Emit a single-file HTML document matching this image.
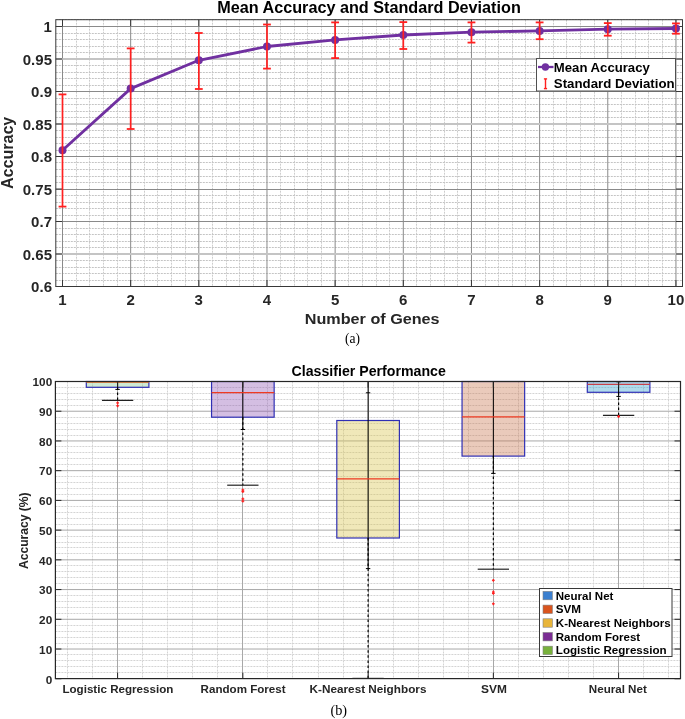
<!DOCTYPE html>
<html><head><meta charset="utf-8"><style>
html,body{margin:0;padding:0;background:#fff;}
svg{display:block;will-change:transform;}
</style></head><body>
<svg width="685" height="719" viewBox="0 0 685 719">
<rect width="685" height="719" fill="#fff"/>
<g>
<line x1="76.50" y1="19.70" x2="76.50" y2="286.50" stroke="#cdcdcd" stroke-width="1" stroke-dasharray="2,1"/>
<line x1="89.50" y1="19.70" x2="89.50" y2="286.50" stroke="#cdcdcd" stroke-width="1" stroke-dasharray="2,1"/>
<line x1="103.50" y1="19.70" x2="103.50" y2="286.50" stroke="#cdcdcd" stroke-width="1" stroke-dasharray="2,1"/>
<line x1="117.50" y1="19.70" x2="117.50" y2="286.50" stroke="#cdcdcd" stroke-width="1" stroke-dasharray="2,1"/>
<line x1="144.50" y1="19.70" x2="144.50" y2="286.50" stroke="#cdcdcd" stroke-width="1" stroke-dasharray="2,1"/>
<line x1="157.50" y1="19.70" x2="157.50" y2="286.50" stroke="#cdcdcd" stroke-width="1" stroke-dasharray="2,1"/>
<line x1="171.50" y1="19.70" x2="171.50" y2="286.50" stroke="#cdcdcd" stroke-width="1" stroke-dasharray="2,1"/>
<line x1="185.50" y1="19.70" x2="185.50" y2="286.50" stroke="#cdcdcd" stroke-width="1" stroke-dasharray="2,1"/>
<line x1="212.50" y1="19.70" x2="212.50" y2="286.50" stroke="#cdcdcd" stroke-width="1" stroke-dasharray="2,1"/>
<line x1="226.50" y1="19.70" x2="226.50" y2="286.50" stroke="#cdcdcd" stroke-width="1" stroke-dasharray="2,1"/>
<line x1="239.50" y1="19.70" x2="239.50" y2="286.50" stroke="#cdcdcd" stroke-width="1" stroke-dasharray="2,1"/>
<line x1="253.50" y1="19.70" x2="253.50" y2="286.50" stroke="#cdcdcd" stroke-width="1" stroke-dasharray="2,1"/>
<line x1="280.50" y1="19.70" x2="280.50" y2="286.50" stroke="#cdcdcd" stroke-width="1" stroke-dasharray="2,1"/>
<line x1="294.50" y1="19.70" x2="294.50" y2="286.50" stroke="#cdcdcd" stroke-width="1" stroke-dasharray="2,1"/>
<line x1="307.50" y1="19.70" x2="307.50" y2="286.50" stroke="#cdcdcd" stroke-width="1" stroke-dasharray="2,1"/>
<line x1="321.50" y1="19.70" x2="321.50" y2="286.50" stroke="#cdcdcd" stroke-width="1" stroke-dasharray="2,1"/>
<line x1="348.50" y1="19.70" x2="348.50" y2="286.50" stroke="#cdcdcd" stroke-width="1" stroke-dasharray="2,1"/>
<line x1="362.50" y1="19.70" x2="362.50" y2="286.50" stroke="#cdcdcd" stroke-width="1" stroke-dasharray="2,1"/>
<line x1="376.50" y1="19.70" x2="376.50" y2="286.50" stroke="#cdcdcd" stroke-width="1" stroke-dasharray="2,1"/>
<line x1="389.50" y1="19.70" x2="389.50" y2="286.50" stroke="#cdcdcd" stroke-width="1" stroke-dasharray="2,1"/>
<line x1="416.50" y1="19.70" x2="416.50" y2="286.50" stroke="#cdcdcd" stroke-width="1" stroke-dasharray="2,1"/>
<line x1="430.50" y1="19.70" x2="430.50" y2="286.50" stroke="#cdcdcd" stroke-width="1" stroke-dasharray="2,1"/>
<line x1="444.50" y1="19.70" x2="444.50" y2="286.50" stroke="#cdcdcd" stroke-width="1" stroke-dasharray="2,1"/>
<line x1="457.50" y1="19.70" x2="457.50" y2="286.50" stroke="#cdcdcd" stroke-width="1" stroke-dasharray="2,1"/>
<line x1="485.50" y1="19.70" x2="485.50" y2="286.50" stroke="#cdcdcd" stroke-width="1" stroke-dasharray="2,1"/>
<line x1="498.50" y1="19.70" x2="498.50" y2="286.50" stroke="#cdcdcd" stroke-width="1" stroke-dasharray="2,1"/>
<line x1="512.50" y1="19.70" x2="512.50" y2="286.50" stroke="#cdcdcd" stroke-width="1" stroke-dasharray="2,1"/>
<line x1="525.50" y1="19.70" x2="525.50" y2="286.50" stroke="#cdcdcd" stroke-width="1" stroke-dasharray="2,1"/>
<line x1="553.50" y1="19.70" x2="553.50" y2="286.50" stroke="#cdcdcd" stroke-width="1" stroke-dasharray="2,1"/>
<line x1="566.50" y1="19.70" x2="566.50" y2="286.50" stroke="#cdcdcd" stroke-width="1" stroke-dasharray="2,1"/>
<line x1="580.50" y1="19.70" x2="580.50" y2="286.50" stroke="#cdcdcd" stroke-width="1" stroke-dasharray="2,1"/>
<line x1="594.50" y1="19.70" x2="594.50" y2="286.50" stroke="#cdcdcd" stroke-width="1" stroke-dasharray="2,1"/>
<line x1="621.50" y1="19.70" x2="621.50" y2="286.50" stroke="#cdcdcd" stroke-width="1" stroke-dasharray="2,1"/>
<line x1="635.50" y1="19.70" x2="635.50" y2="286.50" stroke="#cdcdcd" stroke-width="1" stroke-dasharray="2,1"/>
<line x1="648.50" y1="19.70" x2="648.50" y2="286.50" stroke="#cdcdcd" stroke-width="1" stroke-dasharray="2,1"/>
<line x1="662.50" y1="19.70" x2="662.50" y2="286.50" stroke="#cdcdcd" stroke-width="1" stroke-dasharray="2,1"/>
<line x1="55.80" y1="280.50" x2="682.50" y2="280.50" stroke="#c4c4c4" stroke-width="1" stroke-dasharray="2,1"/>
<line x1="55.80" y1="273.50" x2="682.50" y2="273.50" stroke="#c4c4c4" stroke-width="1" stroke-dasharray="2,1"/>
<line x1="55.80" y1="267.50" x2="682.50" y2="267.50" stroke="#c4c4c4" stroke-width="1" stroke-dasharray="2,1"/>
<line x1="55.80" y1="260.50" x2="682.50" y2="260.50" stroke="#c4c4c4" stroke-width="1" stroke-dasharray="2,1"/>
<line x1="55.80" y1="247.50" x2="682.50" y2="247.50" stroke="#c4c4c4" stroke-width="1" stroke-dasharray="2,1"/>
<line x1="55.80" y1="241.50" x2="682.50" y2="241.50" stroke="#c4c4c4" stroke-width="1" stroke-dasharray="2,1"/>
<line x1="55.80" y1="234.50" x2="682.50" y2="234.50" stroke="#c4c4c4" stroke-width="1" stroke-dasharray="2,1"/>
<line x1="55.80" y1="228.50" x2="682.50" y2="228.50" stroke="#c4c4c4" stroke-width="1" stroke-dasharray="2,1"/>
<line x1="55.80" y1="215.50" x2="682.50" y2="215.50" stroke="#c4c4c4" stroke-width="1" stroke-dasharray="2,1"/>
<line x1="55.80" y1="208.50" x2="682.50" y2="208.50" stroke="#c4c4c4" stroke-width="1" stroke-dasharray="2,1"/>
<line x1="55.80" y1="202.50" x2="682.50" y2="202.50" stroke="#c4c4c4" stroke-width="1" stroke-dasharray="2,1"/>
<line x1="55.80" y1="195.50" x2="682.50" y2="195.50" stroke="#c4c4c4" stroke-width="1" stroke-dasharray="2,1"/>
<line x1="55.80" y1="182.50" x2="682.50" y2="182.50" stroke="#c4c4c4" stroke-width="1" stroke-dasharray="2,1"/>
<line x1="55.80" y1="176.50" x2="682.50" y2="176.50" stroke="#c4c4c4" stroke-width="1" stroke-dasharray="2,1"/>
<line x1="55.80" y1="169.50" x2="682.50" y2="169.50" stroke="#c4c4c4" stroke-width="1" stroke-dasharray="2,1"/>
<line x1="55.80" y1="162.50" x2="682.50" y2="162.50" stroke="#c4c4c4" stroke-width="1" stroke-dasharray="2,1"/>
<line x1="55.80" y1="150.50" x2="682.50" y2="150.50" stroke="#c4c4c4" stroke-width="1" stroke-dasharray="2,1"/>
<line x1="55.80" y1="143.50" x2="682.50" y2="143.50" stroke="#c4c4c4" stroke-width="1" stroke-dasharray="2,1"/>
<line x1="55.80" y1="137.50" x2="682.50" y2="137.50" stroke="#c4c4c4" stroke-width="1" stroke-dasharray="2,1"/>
<line x1="55.80" y1="130.50" x2="682.50" y2="130.50" stroke="#c4c4c4" stroke-width="1" stroke-dasharray="2,1"/>
<line x1="55.80" y1="117.50" x2="682.50" y2="117.50" stroke="#c4c4c4" stroke-width="1" stroke-dasharray="2,1"/>
<line x1="55.80" y1="111.50" x2="682.50" y2="111.50" stroke="#c4c4c4" stroke-width="1" stroke-dasharray="2,1"/>
<line x1="55.80" y1="104.50" x2="682.50" y2="104.50" stroke="#c4c4c4" stroke-width="1" stroke-dasharray="2,1"/>
<line x1="55.80" y1="98.50" x2="682.50" y2="98.50" stroke="#c4c4c4" stroke-width="1" stroke-dasharray="2,1"/>
<line x1="55.80" y1="85.50" x2="682.50" y2="85.50" stroke="#c4c4c4" stroke-width="1" stroke-dasharray="2,1"/>
<line x1="55.80" y1="78.50" x2="682.50" y2="78.50" stroke="#c4c4c4" stroke-width="1" stroke-dasharray="2,1"/>
<line x1="55.80" y1="72.50" x2="682.50" y2="72.50" stroke="#c4c4c4" stroke-width="1" stroke-dasharray="2,1"/>
<line x1="55.80" y1="65.50" x2="682.50" y2="65.50" stroke="#c4c4c4" stroke-width="1" stroke-dasharray="2,1"/>
<line x1="55.80" y1="52.50" x2="682.50" y2="52.50" stroke="#c4c4c4" stroke-width="1" stroke-dasharray="2,1"/>
<line x1="55.80" y1="46.50" x2="682.50" y2="46.50" stroke="#c4c4c4" stroke-width="1" stroke-dasharray="2,1"/>
<line x1="55.80" y1="39.50" x2="682.50" y2="39.50" stroke="#c4c4c4" stroke-width="1" stroke-dasharray="2,1"/>
<line x1="55.80" y1="33.50" x2="682.50" y2="33.50" stroke="#c4c4c4" stroke-width="1" stroke-dasharray="2,1"/>
<line x1="55.80" y1="19.50" x2="682.50" y2="19.50" stroke="#c4c4c4" stroke-width="1" stroke-dasharray="2,1"/>
<line x1="62.50" y1="19.70" x2="62.50" y2="286.50" stroke="#8a8a8a" stroke-width="1" />
<line x1="130.66" y1="19.70" x2="130.66" y2="286.50" stroke="#8a8a8a" stroke-width="1" />
<line x1="198.82" y1="19.70" x2="198.82" y2="286.50" stroke="#8a8a8a" stroke-width="1" />
<line x1="266.98" y1="19.70" x2="266.98" y2="286.50" stroke="#8a8a8a" stroke-width="1" />
<line x1="335.14" y1="19.70" x2="335.14" y2="286.50" stroke="#8a8a8a" stroke-width="1" />
<line x1="403.30" y1="19.70" x2="403.30" y2="286.50" stroke="#8a8a8a" stroke-width="1" />
<line x1="471.46" y1="19.70" x2="471.46" y2="286.50" stroke="#8a8a8a" stroke-width="1" />
<line x1="539.62" y1="19.70" x2="539.62" y2="286.50" stroke="#8a8a8a" stroke-width="1" />
<line x1="607.78" y1="19.70" x2="607.78" y2="286.50" stroke="#8a8a8a" stroke-width="1" />
<line x1="675.94" y1="19.70" x2="675.94" y2="286.50" stroke="#8a8a8a" stroke-width="1" />
<line x1="55.80" y1="26.50" x2="682.50" y2="26.50" stroke="#8a8a8a" stroke-width="1" />
<line x1="55.80" y1="59.00" x2="682.50" y2="59.00" stroke="#c4c4c4" stroke-width="2" />
<line x1="55.80" y1="91.50" x2="682.50" y2="91.50" stroke="#8a8a8a" stroke-width="1" />
<line x1="55.80" y1="124.00" x2="682.50" y2="124.00" stroke="#c4c4c4" stroke-width="2" />
<line x1="55.80" y1="156.50" x2="682.50" y2="156.50" stroke="#8a8a8a" stroke-width="1" />
<line x1="55.80" y1="189.50" x2="682.50" y2="189.50" stroke="#8a8a8a" stroke-width="1" />
<line x1="55.80" y1="221.50" x2="682.50" y2="221.50" stroke="#8a8a8a" stroke-width="1" />
<line x1="55.80" y1="254.00" x2="682.50" y2="254.00" stroke="#c4c4c4" stroke-width="2" />
</g>
<rect x="55.8" y="19.7" width="626.7" height="266.8" fill="none" stroke="#383838" stroke-width="1"/>
<line x1="62.50" y1="286.50" x2="62.50" y2="280.00" stroke="#383838" stroke-width="1" />
<line x1="62.50" y1="19.70" x2="62.50" y2="26.20" stroke="#383838" stroke-width="1" />
<line x1="130.66" y1="286.50" x2="130.66" y2="280.00" stroke="#383838" stroke-width="1" />
<line x1="130.66" y1="19.70" x2="130.66" y2="26.20" stroke="#383838" stroke-width="1" />
<line x1="198.82" y1="286.50" x2="198.82" y2="280.00" stroke="#383838" stroke-width="1" />
<line x1="198.82" y1="19.70" x2="198.82" y2="26.20" stroke="#383838" stroke-width="1" />
<line x1="266.98" y1="286.50" x2="266.98" y2="280.00" stroke="#383838" stroke-width="1" />
<line x1="266.98" y1="19.70" x2="266.98" y2="26.20" stroke="#383838" stroke-width="1" />
<line x1="335.14" y1="286.50" x2="335.14" y2="280.00" stroke="#383838" stroke-width="1" />
<line x1="335.14" y1="19.70" x2="335.14" y2="26.20" stroke="#383838" stroke-width="1" />
<line x1="403.30" y1="286.50" x2="403.30" y2="280.00" stroke="#383838" stroke-width="1" />
<line x1="403.30" y1="19.70" x2="403.30" y2="26.20" stroke="#383838" stroke-width="1" />
<line x1="471.46" y1="286.50" x2="471.46" y2="280.00" stroke="#383838" stroke-width="1" />
<line x1="471.46" y1="19.70" x2="471.46" y2="26.20" stroke="#383838" stroke-width="1" />
<line x1="539.62" y1="286.50" x2="539.62" y2="280.00" stroke="#383838" stroke-width="1" />
<line x1="539.62" y1="19.70" x2="539.62" y2="26.20" stroke="#383838" stroke-width="1" />
<line x1="607.78" y1="286.50" x2="607.78" y2="280.00" stroke="#383838" stroke-width="1" />
<line x1="607.78" y1="19.70" x2="607.78" y2="26.20" stroke="#383838" stroke-width="1" />
<line x1="675.94" y1="286.50" x2="675.94" y2="280.00" stroke="#383838" stroke-width="1" />
<line x1="675.94" y1="19.70" x2="675.94" y2="26.20" stroke="#383838" stroke-width="1" />
<line x1="55.80" y1="286.50" x2="62.30" y2="286.50" stroke="#383838" stroke-width="1" />
<line x1="682.50" y1="286.50" x2="676.00" y2="286.50" stroke="#383838" stroke-width="1" />
<line x1="55.80" y1="254.00" x2="62.30" y2="254.00" stroke="#383838" stroke-width="1" />
<line x1="682.50" y1="254.00" x2="676.00" y2="254.00" stroke="#383838" stroke-width="1" />
<line x1="55.80" y1="221.50" x2="62.30" y2="221.50" stroke="#383838" stroke-width="1" />
<line x1="682.50" y1="221.50" x2="676.00" y2="221.50" stroke="#383838" stroke-width="1" />
<line x1="55.80" y1="189.00" x2="62.30" y2="189.00" stroke="#383838" stroke-width="1" />
<line x1="682.50" y1="189.00" x2="676.00" y2="189.00" stroke="#383838" stroke-width="1" />
<line x1="55.80" y1="156.50" x2="62.30" y2="156.50" stroke="#383838" stroke-width="1" />
<line x1="682.50" y1="156.50" x2="676.00" y2="156.50" stroke="#383838" stroke-width="1" />
<line x1="55.80" y1="124.00" x2="62.30" y2="124.00" stroke="#383838" stroke-width="1" />
<line x1="682.50" y1="124.00" x2="676.00" y2="124.00" stroke="#383838" stroke-width="1" />
<line x1="55.80" y1="91.50" x2="62.30" y2="91.50" stroke="#383838" stroke-width="1" />
<line x1="682.50" y1="91.50" x2="676.00" y2="91.50" stroke="#383838" stroke-width="1" />
<line x1="55.80" y1="59.00" x2="62.30" y2="59.00" stroke="#383838" stroke-width="1" />
<line x1="682.50" y1="59.00" x2="676.00" y2="59.00" stroke="#383838" stroke-width="1" />
<line x1="55.80" y1="26.50" x2="62.30" y2="26.50" stroke="#383838" stroke-width="1" />
<line x1="682.50" y1="26.50" x2="676.00" y2="26.50" stroke="#383838" stroke-width="1" />
<polyline points="62.50,150.20 130.66,88.60 198.82,60.30 266.98,46.50 335.14,39.90 403.30,35.00 471.46,32.20 539.62,30.90 607.78,29.20 675.94,28.50" fill="none" stroke="#7030a0" stroke-width="2.8" stroke-linejoin="round"/>
<circle cx="62.50" cy="150.20" r="4" fill="#7030a0"/>
<circle cx="130.66" cy="88.60" r="4" fill="#7030a0"/>
<circle cx="198.82" cy="60.30" r="4" fill="#7030a0"/>
<circle cx="266.98" cy="46.50" r="4" fill="#7030a0"/>
<circle cx="335.14" cy="39.90" r="4" fill="#7030a0"/>
<circle cx="403.30" cy="35.00" r="4" fill="#7030a0"/>
<circle cx="471.46" cy="32.20" r="4" fill="#7030a0"/>
<circle cx="539.62" cy="30.90" r="4" fill="#7030a0"/>
<circle cx="607.78" cy="29.20" r="4" fill="#7030a0"/>
<circle cx="675.94" cy="28.50" r="4" fill="#7030a0"/>
<line x1="62.50" y1="94.40" x2="62.50" y2="206.60" stroke="#ff2020" stroke-width="1.7" />
<line x1="58.60" y1="94.40" x2="66.40" y2="94.40" stroke="#ff2020" stroke-width="1.8" />
<line x1="58.60" y1="206.60" x2="66.40" y2="206.60" stroke="#ff2020" stroke-width="1.8" />
<line x1="130.66" y1="48.40" x2="130.66" y2="129.00" stroke="#ff2020" stroke-width="1.7" />
<line x1="126.76" y1="48.40" x2="134.56" y2="48.40" stroke="#ff2020" stroke-width="1.8" />
<line x1="126.76" y1="129.00" x2="134.56" y2="129.00" stroke="#ff2020" stroke-width="1.8" />
<line x1="198.82" y1="33.00" x2="198.82" y2="89.00" stroke="#ff2020" stroke-width="1.7" />
<line x1="194.92" y1="33.00" x2="202.72" y2="33.00" stroke="#ff2020" stroke-width="1.8" />
<line x1="194.92" y1="89.00" x2="202.72" y2="89.00" stroke="#ff2020" stroke-width="1.8" />
<line x1="266.98" y1="24.50" x2="266.98" y2="68.60" stroke="#ff2020" stroke-width="1.7" />
<line x1="263.08" y1="24.50" x2="270.88" y2="24.50" stroke="#ff2020" stroke-width="1.8" />
<line x1="263.08" y1="68.60" x2="270.88" y2="68.60" stroke="#ff2020" stroke-width="1.8" />
<line x1="335.14" y1="22.40" x2="335.14" y2="58.10" stroke="#ff2020" stroke-width="1.7" />
<line x1="331.24" y1="22.40" x2="339.04" y2="22.40" stroke="#ff2020" stroke-width="1.8" />
<line x1="331.24" y1="58.10" x2="339.04" y2="58.10" stroke="#ff2020" stroke-width="1.8" />
<line x1="403.30" y1="22.10" x2="403.30" y2="49.00" stroke="#ff2020" stroke-width="1.7" />
<line x1="399.40" y1="22.10" x2="407.20" y2="22.10" stroke="#ff2020" stroke-width="1.8" />
<line x1="399.40" y1="49.00" x2="407.20" y2="49.00" stroke="#ff2020" stroke-width="1.8" />
<line x1="471.46" y1="22.40" x2="471.46" y2="42.60" stroke="#ff2020" stroke-width="1.7" />
<line x1="467.56" y1="22.40" x2="475.36" y2="22.40" stroke="#ff2020" stroke-width="1.8" />
<line x1="467.56" y1="42.60" x2="475.36" y2="42.60" stroke="#ff2020" stroke-width="1.8" />
<line x1="539.62" y1="22.40" x2="539.62" y2="39.20" stroke="#ff2020" stroke-width="1.7" />
<line x1="535.72" y1="22.40" x2="543.52" y2="22.40" stroke="#ff2020" stroke-width="1.8" />
<line x1="535.72" y1="39.20" x2="543.52" y2="39.20" stroke="#ff2020" stroke-width="1.8" />
<line x1="607.78" y1="23.10" x2="607.78" y2="35.70" stroke="#ff2020" stroke-width="1.7" />
<line x1="603.88" y1="23.10" x2="611.68" y2="23.10" stroke="#ff2020" stroke-width="1.8" />
<line x1="603.88" y1="35.70" x2="611.68" y2="35.70" stroke="#ff2020" stroke-width="1.8" />
<line x1="675.94" y1="23.40" x2="675.94" y2="33.70" stroke="#ff2020" stroke-width="1.7" />
<line x1="672.04" y1="23.40" x2="679.84" y2="23.40" stroke="#ff2020" stroke-width="1.8" />
<line x1="672.04" y1="33.70" x2="679.84" y2="33.70" stroke="#ff2020" stroke-width="1.8" />
<rect x="536.5" y="58.5" width="139" height="32.5" fill="#fff" stroke="#505050" stroke-width="1"/>
<line x1="538.00" y1="67.00" x2="553.50" y2="67.00" stroke="#7030a0" stroke-width="2.3" />
<circle cx="545.4" cy="67.0" r="3.7" fill="#7030a0"/>
<line x1="545.50" y1="78.90" x2="545.50" y2="88.60" stroke="#ff2020" stroke-width="1.4" />
<line x1="543.90" y1="78.90" x2="547.10" y2="78.90" stroke="#ff2020" stroke-width="1.4" />
<line x1="543.90" y1="88.60" x2="547.10" y2="88.60" stroke="#ff2020" stroke-width="1.4" />
<text x="52.00" y="292.10" text-anchor="end" font-family='"Liberation Sans", sans-serif' font-weight="bold" font-size="14.6" fill="#262626" textLength="20.90" lengthAdjust="spacingAndGlyphs">0.6</text>
<text x="52.00" y="259.60" text-anchor="end" font-family='"Liberation Sans", sans-serif' font-weight="bold" font-size="14.6" fill="#262626" textLength="29.26" lengthAdjust="spacingAndGlyphs">0.65</text>
<text x="52.00" y="227.10" text-anchor="end" font-family='"Liberation Sans", sans-serif' font-weight="bold" font-size="14.6" fill="#262626" textLength="20.90" lengthAdjust="spacingAndGlyphs">0.7</text>
<text x="52.00" y="194.60" text-anchor="end" font-family='"Liberation Sans", sans-serif' font-weight="bold" font-size="14.6" fill="#262626" textLength="29.26" lengthAdjust="spacingAndGlyphs">0.75</text>
<text x="52.00" y="162.10" text-anchor="end" font-family='"Liberation Sans", sans-serif' font-weight="bold" font-size="14.6" fill="#262626" textLength="20.90" lengthAdjust="spacingAndGlyphs">0.8</text>
<text x="52.00" y="129.60" text-anchor="end" font-family='"Liberation Sans", sans-serif' font-weight="bold" font-size="14.6" fill="#262626" textLength="29.26" lengthAdjust="spacingAndGlyphs">0.85</text>
<text x="52.00" y="97.10" text-anchor="end" font-family='"Liberation Sans", sans-serif' font-weight="bold" font-size="14.6" fill="#262626" textLength="20.90" lengthAdjust="spacingAndGlyphs">0.9</text>
<text x="52.00" y="64.60" text-anchor="end" font-family='"Liberation Sans", sans-serif' font-weight="bold" font-size="14.6" fill="#262626" textLength="29.26" lengthAdjust="spacingAndGlyphs">0.95</text>
<text x="52.00" y="32.10" text-anchor="end" font-family='"Liberation Sans", sans-serif' font-weight="bold" font-size="14.6" fill="#262626" textLength="8.36" lengthAdjust="spacingAndGlyphs">1</text>
<text x="62.50" y="305.20" text-anchor="middle" font-family='"Liberation Sans", sans-serif' font-weight="bold" font-size="14.6" fill="#262626" textLength="8.36" lengthAdjust="spacingAndGlyphs">1</text>
<text x="130.66" y="305.20" text-anchor="middle" font-family='"Liberation Sans", sans-serif' font-weight="bold" font-size="14.6" fill="#262626" textLength="8.36" lengthAdjust="spacingAndGlyphs">2</text>
<text x="198.82" y="305.20" text-anchor="middle" font-family='"Liberation Sans", sans-serif' font-weight="bold" font-size="14.6" fill="#262626" textLength="8.36" lengthAdjust="spacingAndGlyphs">3</text>
<text x="266.98" y="305.20" text-anchor="middle" font-family='"Liberation Sans", sans-serif' font-weight="bold" font-size="14.6" fill="#262626" textLength="8.36" lengthAdjust="spacingAndGlyphs">4</text>
<text x="335.14" y="305.20" text-anchor="middle" font-family='"Liberation Sans", sans-serif' font-weight="bold" font-size="14.6" fill="#262626" textLength="8.36" lengthAdjust="spacingAndGlyphs">5</text>
<text x="403.30" y="305.20" text-anchor="middle" font-family='"Liberation Sans", sans-serif' font-weight="bold" font-size="14.6" fill="#262626" textLength="8.36" lengthAdjust="spacingAndGlyphs">6</text>
<text x="471.46" y="305.20" text-anchor="middle" font-family='"Liberation Sans", sans-serif' font-weight="bold" font-size="14.6" fill="#262626" textLength="8.36" lengthAdjust="spacingAndGlyphs">7</text>
<text x="539.62" y="305.20" text-anchor="middle" font-family='"Liberation Sans", sans-serif' font-weight="bold" font-size="14.6" fill="#262626" textLength="8.36" lengthAdjust="spacingAndGlyphs">8</text>
<text x="607.78" y="305.20" text-anchor="middle" font-family='"Liberation Sans", sans-serif' font-weight="bold" font-size="14.6" fill="#262626" textLength="8.36" lengthAdjust="spacingAndGlyphs">9</text>
<text x="675.94" y="305.20" text-anchor="middle" font-family='"Liberation Sans", sans-serif' font-weight="bold" font-size="14.6" fill="#262626" textLength="16.72" lengthAdjust="spacingAndGlyphs">10</text>
<g>
<line x1="67.50" y1="381.50" x2="67.50" y2="678.60" stroke="#d4d4d4" stroke-width="1" stroke-dasharray="2,1"/>
<line x1="92.50" y1="381.50" x2="92.50" y2="678.60" stroke="#d4d4d4" stroke-width="1" stroke-dasharray="2,1"/>
<line x1="142.50" y1="381.50" x2="142.50" y2="678.60" stroke="#d4d4d4" stroke-width="1" stroke-dasharray="2,1"/>
<line x1="167.50" y1="381.50" x2="167.50" y2="678.60" stroke="#d4d4d4" stroke-width="1" stroke-dasharray="2,1"/>
<line x1="192.50" y1="381.50" x2="192.50" y2="678.60" stroke="#d4d4d4" stroke-width="1" stroke-dasharray="2,1"/>
<line x1="217.50" y1="381.50" x2="217.50" y2="678.60" stroke="#d4d4d4" stroke-width="1" stroke-dasharray="2,1"/>
<line x1="267.50" y1="381.50" x2="267.50" y2="678.60" stroke="#d4d4d4" stroke-width="1" stroke-dasharray="2,1"/>
<line x1="292.50" y1="381.50" x2="292.50" y2="678.60" stroke="#d4d4d4" stroke-width="1" stroke-dasharray="2,1"/>
<line x1="318.50" y1="381.50" x2="318.50" y2="678.60" stroke="#d4d4d4" stroke-width="1" stroke-dasharray="2,1"/>
<line x1="343.50" y1="381.50" x2="343.50" y2="678.60" stroke="#d4d4d4" stroke-width="1" stroke-dasharray="2,1"/>
<line x1="393.50" y1="381.50" x2="393.50" y2="678.60" stroke="#d4d4d4" stroke-width="1" stroke-dasharray="2,1"/>
<line x1="418.50" y1="381.50" x2="418.50" y2="678.60" stroke="#d4d4d4" stroke-width="1" stroke-dasharray="2,1"/>
<line x1="443.50" y1="381.50" x2="443.50" y2="678.60" stroke="#d4d4d4" stroke-width="1" stroke-dasharray="2,1"/>
<line x1="468.50" y1="381.50" x2="468.50" y2="678.60" stroke="#d4d4d4" stroke-width="1" stroke-dasharray="2,1"/>
<line x1="518.50" y1="381.50" x2="518.50" y2="678.60" stroke="#d4d4d4" stroke-width="1" stroke-dasharray="2,1"/>
<line x1="543.50" y1="381.50" x2="543.50" y2="678.60" stroke="#d4d4d4" stroke-width="1" stroke-dasharray="2,1"/>
<line x1="568.50" y1="381.50" x2="568.50" y2="678.60" stroke="#d4d4d4" stroke-width="1" stroke-dasharray="2,1"/>
<line x1="593.50" y1="381.50" x2="593.50" y2="678.60" stroke="#d4d4d4" stroke-width="1" stroke-dasharray="2,1"/>
<line x1="643.50" y1="381.50" x2="643.50" y2="678.60" stroke="#d4d4d4" stroke-width="1" stroke-dasharray="2,1"/>
<line x1="668.50" y1="381.50" x2="668.50" y2="678.60" stroke="#d4d4d4" stroke-width="1" stroke-dasharray="2,1"/>
<line x1="55.40" y1="672.50" x2="680.50" y2="672.50" stroke="#d4d4d4" stroke-width="1" stroke-dasharray="2,1"/>
<line x1="55.40" y1="666.50" x2="680.50" y2="666.50" stroke="#d4d4d4" stroke-width="1" stroke-dasharray="2,1"/>
<line x1="55.40" y1="660.50" x2="680.50" y2="660.50" stroke="#d4d4d4" stroke-width="1" stroke-dasharray="2,1"/>
<line x1="55.40" y1="654.50" x2="680.50" y2="654.50" stroke="#d4d4d4" stroke-width="1" stroke-dasharray="2,1"/>
<line x1="55.40" y1="643.50" x2="680.50" y2="643.50" stroke="#d4d4d4" stroke-width="1" stroke-dasharray="2,1"/>
<line x1="55.40" y1="637.50" x2="680.50" y2="637.50" stroke="#d4d4d4" stroke-width="1" stroke-dasharray="2,1"/>
<line x1="55.40" y1="631.50" x2="680.50" y2="631.50" stroke="#d4d4d4" stroke-width="1" stroke-dasharray="2,1"/>
<line x1="55.40" y1="625.50" x2="680.50" y2="625.50" stroke="#d4d4d4" stroke-width="1" stroke-dasharray="2,1"/>
<line x1="55.40" y1="613.50" x2="680.50" y2="613.50" stroke="#d4d4d4" stroke-width="1" stroke-dasharray="2,1"/>
<line x1="55.40" y1="607.50" x2="680.50" y2="607.50" stroke="#d4d4d4" stroke-width="1" stroke-dasharray="2,1"/>
<line x1="55.40" y1="601.50" x2="680.50" y2="601.50" stroke="#d4d4d4" stroke-width="1" stroke-dasharray="2,1"/>
<line x1="55.40" y1="595.50" x2="680.50" y2="595.50" stroke="#d4d4d4" stroke-width="1" stroke-dasharray="2,1"/>
<line x1="55.40" y1="583.50" x2="680.50" y2="583.50" stroke="#d4d4d4" stroke-width="1" stroke-dasharray="2,1"/>
<line x1="55.40" y1="577.50" x2="680.50" y2="577.50" stroke="#d4d4d4" stroke-width="1" stroke-dasharray="2,1"/>
<line x1="55.40" y1="571.50" x2="680.50" y2="571.50" stroke="#d4d4d4" stroke-width="1" stroke-dasharray="2,1"/>
<line x1="55.40" y1="565.50" x2="680.50" y2="565.50" stroke="#d4d4d4" stroke-width="1" stroke-dasharray="2,1"/>
<line x1="55.40" y1="553.50" x2="680.50" y2="553.50" stroke="#d4d4d4" stroke-width="1" stroke-dasharray="2,1"/>
<line x1="55.40" y1="547.50" x2="680.50" y2="547.50" stroke="#d4d4d4" stroke-width="1" stroke-dasharray="2,1"/>
<line x1="55.40" y1="542.50" x2="680.50" y2="542.50" stroke="#d4d4d4" stroke-width="1" stroke-dasharray="2,1"/>
<line x1="55.40" y1="536.50" x2="680.50" y2="536.50" stroke="#d4d4d4" stroke-width="1" stroke-dasharray="2,1"/>
<line x1="55.40" y1="524.50" x2="680.50" y2="524.50" stroke="#d4d4d4" stroke-width="1" stroke-dasharray="2,1"/>
<line x1="55.40" y1="518.50" x2="680.50" y2="518.50" stroke="#d4d4d4" stroke-width="1" stroke-dasharray="2,1"/>
<line x1="55.40" y1="512.50" x2="680.50" y2="512.50" stroke="#d4d4d4" stroke-width="1" stroke-dasharray="2,1"/>
<line x1="55.40" y1="506.50" x2="680.50" y2="506.50" stroke="#d4d4d4" stroke-width="1" stroke-dasharray="2,1"/>
<line x1="55.40" y1="494.50" x2="680.50" y2="494.50" stroke="#d4d4d4" stroke-width="1" stroke-dasharray="2,1"/>
<line x1="55.40" y1="488.50" x2="680.50" y2="488.50" stroke="#d4d4d4" stroke-width="1" stroke-dasharray="2,1"/>
<line x1="55.40" y1="482.50" x2="680.50" y2="482.50" stroke="#d4d4d4" stroke-width="1" stroke-dasharray="2,1"/>
<line x1="55.40" y1="476.50" x2="680.50" y2="476.50" stroke="#d4d4d4" stroke-width="1" stroke-dasharray="2,1"/>
<line x1="55.40" y1="464.50" x2="680.50" y2="464.50" stroke="#d4d4d4" stroke-width="1" stroke-dasharray="2,1"/>
<line x1="55.40" y1="458.50" x2="680.50" y2="458.50" stroke="#d4d4d4" stroke-width="1" stroke-dasharray="2,1"/>
<line x1="55.40" y1="452.50" x2="680.50" y2="452.50" stroke="#d4d4d4" stroke-width="1" stroke-dasharray="2,1"/>
<line x1="55.40" y1="446.50" x2="680.50" y2="446.50" stroke="#d4d4d4" stroke-width="1" stroke-dasharray="2,1"/>
<line x1="55.40" y1="435.50" x2="680.50" y2="435.50" stroke="#d4d4d4" stroke-width="1" stroke-dasharray="2,1"/>
<line x1="55.40" y1="429.50" x2="680.50" y2="429.50" stroke="#d4d4d4" stroke-width="1" stroke-dasharray="2,1"/>
<line x1="55.40" y1="423.50" x2="680.50" y2="423.50" stroke="#d4d4d4" stroke-width="1" stroke-dasharray="2,1"/>
<line x1="55.40" y1="417.50" x2="680.50" y2="417.50" stroke="#d4d4d4" stroke-width="1" stroke-dasharray="2,1"/>
<line x1="55.40" y1="405.50" x2="680.50" y2="405.50" stroke="#d4d4d4" stroke-width="1" stroke-dasharray="2,1"/>
<line x1="55.40" y1="399.50" x2="680.50" y2="399.50" stroke="#d4d4d4" stroke-width="1" stroke-dasharray="2,1"/>
<line x1="55.40" y1="393.50" x2="680.50" y2="393.50" stroke="#d4d4d4" stroke-width="1" stroke-dasharray="2,1"/>
<line x1="55.40" y1="387.50" x2="680.50" y2="387.50" stroke="#d4d4d4" stroke-width="1" stroke-dasharray="2,1"/>
<line x1="117.50" y1="381.50" x2="117.50" y2="678.60" stroke="#a8a8a8" stroke-width="1" />
<line x1="242.50" y1="381.50" x2="242.50" y2="678.60" stroke="#a8a8a8" stroke-width="1" />
<line x1="368.50" y1="381.50" x2="368.50" y2="678.60" stroke="#a8a8a8" stroke-width="1" />
<line x1="493.50" y1="381.50" x2="493.50" y2="678.60" stroke="#a8a8a8" stroke-width="1" />
<line x1="618.50" y1="381.50" x2="618.50" y2="678.60" stroke="#a8a8a8" stroke-width="1" />
<line x1="55.40" y1="649.02" x2="680.50" y2="649.02" stroke="#a8a8a8" stroke-width="1" />
<line x1="55.40" y1="619.29" x2="680.50" y2="619.29" stroke="#a8a8a8" stroke-width="1" />
<line x1="55.40" y1="589.57" x2="680.50" y2="589.57" stroke="#a8a8a8" stroke-width="1" />
<line x1="55.40" y1="559.84" x2="680.50" y2="559.84" stroke="#a8a8a8" stroke-width="1" />
<line x1="55.40" y1="530.12" x2="680.50" y2="530.12" stroke="#a8a8a8" stroke-width="1" />
<line x1="55.40" y1="500.40" x2="680.50" y2="500.40" stroke="#a8a8a8" stroke-width="1" />
<line x1="55.40" y1="470.67" x2="680.50" y2="470.67" stroke="#a8a8a8" stroke-width="1" />
<line x1="55.40" y1="440.95" x2="680.50" y2="440.95" stroke="#a8a8a8" stroke-width="1" />
<line x1="55.40" y1="411.22" x2="680.50" y2="411.22" stroke="#a8a8a8" stroke-width="1" />
</g>
<g>
<rect x="86.30" y="381.50" width="62.60" height="5.80" fill="rgb(135,202,142)" fill-opacity="0.4" stroke="#3030b4" stroke-width="1.2"/>
<rect x="211.55" y="381.50" width="62.60" height="35.70" fill="rgb(147,92,182)" fill-opacity="0.4" stroke="#3030b4" stroke-width="1.2"/>
<rect x="336.80" y="420.50" width="62.60" height="117.50" fill="rgb(217,197,80)" fill-opacity="0.4" stroke="#3030b4" stroke-width="1.2"/>
<rect x="462.05" y="381.50" width="62.60" height="74.60" fill="rgb(202,122,85)" fill-opacity="0.4" stroke="#3030b4" stroke-width="1.2"/>
<rect x="587.30" y="381.50" width="62.60" height="10.80" fill="rgb(57,162,207)" fill-opacity="0.4" stroke="#3030b4" stroke-width="1.2"/>
<line x1="117.60" y1="387.30" x2="117.60" y2="400.30" stroke="#000" stroke-width="1.2" stroke-dasharray="2.5,2.6"/>
<line x1="101.95" y1="400.30" x2="133.25" y2="400.30" stroke="#222" stroke-width="1.2" />
<line x1="117.60" y1="381.50" x2="117.60" y2="389.40" stroke="#000" stroke-width="1" />
<line x1="115.40" y1="389.40" x2="119.80" y2="389.40" stroke="#000" stroke-width="1" />
<line x1="115.40" y1="381.80" x2="119.80" y2="381.80" stroke="#000" stroke-width="1" />
<line x1="86.30" y1="382.20" x2="148.90" y2="382.20" stroke="#e2651e" stroke-width="1.3" />
<line x1="116.20" y1="402.90" x2="119.00" y2="402.90" stroke="#ff2020" stroke-width="1.2" />
<line x1="117.60" y1="401.50" x2="117.60" y2="404.30" stroke="#ff2020" stroke-width="1.2" />
<line x1="116.20" y1="405.80" x2="119.00" y2="405.80" stroke="#ff2020" stroke-width="1.2" />
<line x1="117.60" y1="404.40" x2="117.60" y2="407.20" stroke="#ff2020" stroke-width="1.2" />
<line x1="242.85" y1="417.20" x2="242.85" y2="485.20" stroke="#000" stroke-width="1.2" stroke-dasharray="2.5,2.6"/>
<line x1="227.20" y1="485.20" x2="258.50" y2="485.20" stroke="#222" stroke-width="1.2" />
<line x1="242.85" y1="381.50" x2="242.85" y2="429.50" stroke="#000" stroke-width="1" />
<line x1="240.65" y1="429.50" x2="245.05" y2="429.50" stroke="#000" stroke-width="1" />
<line x1="211.55" y1="392.60" x2="274.15" y2="392.60" stroke="#ee3a22" stroke-width="1.3" />
<line x1="241.45" y1="490.00" x2="244.25" y2="490.00" stroke="#ff2020" stroke-width="1.2" />
<line x1="242.85" y1="488.60" x2="242.85" y2="491.40" stroke="#ff2020" stroke-width="1.2" />
<line x1="241.45" y1="491.60" x2="244.25" y2="491.60" stroke="#ff2020" stroke-width="1.2" />
<line x1="242.85" y1="490.20" x2="242.85" y2="493.00" stroke="#ff2020" stroke-width="1.2" />
<line x1="241.45" y1="498.90" x2="244.25" y2="498.90" stroke="#ff2020" stroke-width="1.2" />
<line x1="242.85" y1="497.50" x2="242.85" y2="500.30" stroke="#ff2020" stroke-width="1.2" />
<line x1="241.45" y1="501.20" x2="244.25" y2="501.20" stroke="#ff2020" stroke-width="1.2" />
<line x1="242.85" y1="499.80" x2="242.85" y2="502.60" stroke="#ff2020" stroke-width="1.2" />
<line x1="368.10" y1="538.00" x2="368.10" y2="678.40" stroke="#000" stroke-width="1.2" stroke-dasharray="2.5,2.6"/>
<line x1="352.45" y1="678.40" x2="383.75" y2="678.40" stroke="#222" stroke-width="1.2" />
<line x1="368.10" y1="381.50" x2="368.10" y2="568.60" stroke="#000" stroke-width="1" />
<line x1="365.90" y1="568.60" x2="370.30" y2="568.60" stroke="#000" stroke-width="1" />
<line x1="365.90" y1="392.80" x2="370.30" y2="392.80" stroke="#000" stroke-width="1" />
<line x1="336.80" y1="478.90" x2="399.40" y2="478.90" stroke="#ee3a22" stroke-width="1.3" />
<line x1="493.35" y1="456.10" x2="493.35" y2="569.20" stroke="#000" stroke-width="1.2" stroke-dasharray="2.5,2.6"/>
<line x1="477.70" y1="569.20" x2="509.00" y2="569.20" stroke="#222" stroke-width="1.2" />
<line x1="493.35" y1="381.50" x2="493.35" y2="473.40" stroke="#000" stroke-width="1" />
<line x1="491.15" y1="473.40" x2="495.55" y2="473.40" stroke="#000" stroke-width="1" />
<line x1="462.05" y1="416.80" x2="524.65" y2="416.80" stroke="#ee3a22" stroke-width="1.3" />
<line x1="491.95" y1="580.30" x2="494.75" y2="580.30" stroke="#ff2020" stroke-width="1.2" />
<line x1="493.35" y1="578.90" x2="493.35" y2="581.70" stroke="#ff2020" stroke-width="1.2" />
<line x1="491.95" y1="592.00" x2="494.75" y2="592.00" stroke="#ff2020" stroke-width="1.2" />
<line x1="493.35" y1="590.60" x2="493.35" y2="593.40" stroke="#ff2020" stroke-width="1.2" />
<line x1="491.95" y1="593.40" x2="494.75" y2="593.40" stroke="#ff2020" stroke-width="1.2" />
<line x1="493.35" y1="592.00" x2="493.35" y2="594.80" stroke="#ff2020" stroke-width="1.2" />
<line x1="491.95" y1="603.80" x2="494.75" y2="603.80" stroke="#ff2020" stroke-width="1.2" />
<line x1="493.35" y1="602.40" x2="493.35" y2="605.20" stroke="#ff2020" stroke-width="1.2" />
<line x1="618.60" y1="392.30" x2="618.60" y2="415.30" stroke="#000" stroke-width="1.2" stroke-dasharray="2.5,2.6"/>
<line x1="602.95" y1="415.30" x2="634.25" y2="415.30" stroke="#222" stroke-width="1.2" />
<line x1="618.60" y1="381.50" x2="618.60" y2="396.40" stroke="#000" stroke-width="1" />
<line x1="616.40" y1="396.40" x2="620.80" y2="396.40" stroke="#000" stroke-width="1" />
<line x1="616.40" y1="381.80" x2="620.80" y2="381.80" stroke="#000" stroke-width="1" />
<line x1="587.30" y1="384.40" x2="649.90" y2="384.40" stroke="#c8404a" stroke-width="1.3" />
<line x1="617.20" y1="416.50" x2="620.00" y2="416.50" stroke="#ff2020" stroke-width="1.2" />
<line x1="618.60" y1="415.10" x2="618.60" y2="417.90" stroke="#ff2020" stroke-width="1.2" />
</g>
<rect x="55.4" y="381.5" width="625.1" height="297.1" fill="none" stroke="#262626" stroke-width="1.2"/>
<line x1="55.40" y1="678.74" x2="61.40" y2="678.74" stroke="#262626" stroke-width="1" />
<line x1="680.50" y1="678.74" x2="674.50" y2="678.74" stroke="#262626" stroke-width="1" />
<line x1="55.40" y1="649.02" x2="61.40" y2="649.02" stroke="#262626" stroke-width="1" />
<line x1="680.50" y1="649.02" x2="674.50" y2="649.02" stroke="#262626" stroke-width="1" />
<line x1="55.40" y1="619.29" x2="61.40" y2="619.29" stroke="#262626" stroke-width="1" />
<line x1="680.50" y1="619.29" x2="674.50" y2="619.29" stroke="#262626" stroke-width="1" />
<line x1="55.40" y1="589.57" x2="61.40" y2="589.57" stroke="#262626" stroke-width="1" />
<line x1="680.50" y1="589.57" x2="674.50" y2="589.57" stroke="#262626" stroke-width="1" />
<line x1="55.40" y1="559.84" x2="61.40" y2="559.84" stroke="#262626" stroke-width="1" />
<line x1="680.50" y1="559.84" x2="674.50" y2="559.84" stroke="#262626" stroke-width="1" />
<line x1="55.40" y1="530.12" x2="61.40" y2="530.12" stroke="#262626" stroke-width="1" />
<line x1="680.50" y1="530.12" x2="674.50" y2="530.12" stroke="#262626" stroke-width="1" />
<line x1="55.40" y1="500.40" x2="61.40" y2="500.40" stroke="#262626" stroke-width="1" />
<line x1="680.50" y1="500.40" x2="674.50" y2="500.40" stroke="#262626" stroke-width="1" />
<line x1="55.40" y1="470.67" x2="61.40" y2="470.67" stroke="#262626" stroke-width="1" />
<line x1="680.50" y1="470.67" x2="674.50" y2="470.67" stroke="#262626" stroke-width="1" />
<line x1="55.40" y1="440.95" x2="61.40" y2="440.95" stroke="#262626" stroke-width="1" />
<line x1="680.50" y1="440.95" x2="674.50" y2="440.95" stroke="#262626" stroke-width="1" />
<line x1="55.40" y1="411.22" x2="61.40" y2="411.22" stroke="#262626" stroke-width="1" />
<line x1="680.50" y1="411.22" x2="674.50" y2="411.22" stroke="#262626" stroke-width="1" />
<line x1="55.40" y1="381.50" x2="61.40" y2="381.50" stroke="#262626" stroke-width="1" />
<line x1="680.50" y1="381.50" x2="674.50" y2="381.50" stroke="#262626" stroke-width="1" />
<line x1="117.60" y1="678.60" x2="117.60" y2="672.60" stroke="#262626" stroke-width="1" />
<line x1="117.60" y1="381.50" x2="117.60" y2="387.50" stroke="#262626" stroke-width="1" />
<line x1="242.85" y1="678.60" x2="242.85" y2="672.60" stroke="#262626" stroke-width="1" />
<line x1="242.85" y1="381.50" x2="242.85" y2="387.50" stroke="#262626" stroke-width="1" />
<line x1="368.10" y1="678.60" x2="368.10" y2="672.60" stroke="#262626" stroke-width="1" />
<line x1="368.10" y1="381.50" x2="368.10" y2="387.50" stroke="#262626" stroke-width="1" />
<line x1="493.35" y1="678.60" x2="493.35" y2="672.60" stroke="#262626" stroke-width="1" />
<line x1="493.35" y1="381.50" x2="493.35" y2="387.50" stroke="#262626" stroke-width="1" />
<line x1="618.60" y1="678.60" x2="618.60" y2="672.60" stroke="#262626" stroke-width="1" />
<line x1="618.60" y1="381.50" x2="618.60" y2="387.50" stroke="#262626" stroke-width="1" />
<rect x="539.5" y="588.5" width="132.5" height="68" fill="#fff" stroke="#383838" stroke-width="1"/>
<rect x="543" y="591.40" width="9.4" height="8.4" fill="#3b7fcf" stroke="#808080" stroke-width="0.6"/>
<rect x="543" y="605.10" width="9.4" height="8.4" fill="#d9541e" stroke="#808080" stroke-width="0.6"/>
<rect x="543" y="618.80" width="9.4" height="8.4" fill="#e8b53a" stroke="#808080" stroke-width="0.6"/>
<rect x="543" y="632.50" width="9.4" height="8.4" fill="#7b2d94" stroke="#808080" stroke-width="0.6"/>
<rect x="543" y="646.20" width="9.4" height="8.4" fill="#78b13c" stroke="#808080" stroke-width="0.6"/>
<text x="52.20" y="683.54" text-anchor="end" font-family='"Liberation Sans", sans-serif' font-weight="bold" font-size="10.4" fill="#262626" textLength="6.53" lengthAdjust="spacingAndGlyphs">0</text>
<text x="52.20" y="653.82" text-anchor="end" font-family='"Liberation Sans", sans-serif' font-weight="bold" font-size="10.4" fill="#262626" textLength="13.07" lengthAdjust="spacingAndGlyphs">10</text>
<text x="52.20" y="624.09" text-anchor="end" font-family='"Liberation Sans", sans-serif' font-weight="bold" font-size="10.4" fill="#262626" textLength="13.07" lengthAdjust="spacingAndGlyphs">20</text>
<text x="52.20" y="594.37" text-anchor="end" font-family='"Liberation Sans", sans-serif' font-weight="bold" font-size="10.4" fill="#262626" textLength="13.07" lengthAdjust="spacingAndGlyphs">30</text>
<text x="52.20" y="564.64" text-anchor="end" font-family='"Liberation Sans", sans-serif' font-weight="bold" font-size="10.4" fill="#262626" textLength="13.07" lengthAdjust="spacingAndGlyphs">40</text>
<text x="52.20" y="534.92" text-anchor="end" font-family='"Liberation Sans", sans-serif' font-weight="bold" font-size="10.4" fill="#262626" textLength="13.07" lengthAdjust="spacingAndGlyphs">50</text>
<text x="52.20" y="505.20" text-anchor="end" font-family='"Liberation Sans", sans-serif' font-weight="bold" font-size="10.4" fill="#262626" textLength="13.07" lengthAdjust="spacingAndGlyphs">60</text>
<text x="52.20" y="475.47" text-anchor="end" font-family='"Liberation Sans", sans-serif' font-weight="bold" font-size="10.4" fill="#262626" textLength="13.07" lengthAdjust="spacingAndGlyphs">70</text>
<text x="52.20" y="445.75" text-anchor="end" font-family='"Liberation Sans", sans-serif' font-weight="bold" font-size="10.4" fill="#262626" textLength="13.07" lengthAdjust="spacingAndGlyphs">80</text>
<text x="52.20" y="416.02" text-anchor="end" font-family='"Liberation Sans", sans-serif' font-weight="bold" font-size="10.4" fill="#262626" textLength="13.07" lengthAdjust="spacingAndGlyphs">90</text>
<text x="52.20" y="386.30" text-anchor="end" font-family='"Liberation Sans", sans-serif' font-weight="bold" font-size="10.4" fill="#262626" textLength="19.60" lengthAdjust="spacingAndGlyphs">100</text>
<text x="217.20" y="12.60" font-family='"Liberation Sans", sans-serif' font-weight="bold" font-size="15.60" fill="#000" textLength="303.61" lengthAdjust="spacingAndGlyphs">Mean Accuracy and Standard Deviation</text>
<text x="304.80" y="323.60" font-family='"Liberation Sans", sans-serif' font-weight="bold" font-size="15.50" fill="#262626" textLength="134.82" lengthAdjust="spacingAndGlyphs">Number of Genes</text>
<text transform="translate(12.80,189.00) rotate(-90)" font-family='"Liberation Sans", sans-serif' font-weight="bold" font-size="16.00" fill="#262626" textLength="72.23" lengthAdjust="spacingAndGlyphs">Accuracy</text>
<text x="553.80" y="72.40" font-family='"Liberation Sans", sans-serif' font-weight="bold" font-size="12.60" fill="#000" textLength="96.01" lengthAdjust="spacingAndGlyphs">Mean Accuracy</text>
<text x="553.80" y="88.30" font-family='"Liberation Sans", sans-serif' font-weight="bold" font-size="12.60" fill="#000" textLength="120.83" lengthAdjust="spacingAndGlyphs">Standard Deviation</text>
<text x="345.00" y="343.10" font-family='"Liberation Serif", serif' font-weight="normal" font-size="13.60" fill="#000" textLength="15.00" lengthAdjust="spacingAndGlyphs">(a)</text>
<text x="291.60" y="376.20" font-family='"Liberation Sans", sans-serif' font-weight="bold" font-size="14.00" fill="#000" textLength="154.21" lengthAdjust="spacingAndGlyphs">Classifier Performance</text>
<text x="62.40" y="693.00" font-family='"Liberation Sans", sans-serif' font-weight="bold" font-size="10.60" fill="#262626" textLength="111.02" lengthAdjust="spacingAndGlyphs">Logistic Regression</text>
<text x="200.60" y="693.00" font-family='"Liberation Sans", sans-serif' font-weight="bold" font-size="10.60" fill="#262626" textLength="85.01" lengthAdjust="spacingAndGlyphs">Random Forest</text>
<text x="309.60" y="693.00" font-family='"Liberation Sans", sans-serif' font-weight="bold" font-size="10.60" fill="#262626" textLength="116.82" lengthAdjust="spacingAndGlyphs">K-Nearest Neighbors</text>
<text x="481.00" y="693.10" font-family='"Liberation Sans", sans-serif' font-weight="bold" font-size="10.60" fill="#262626" textLength="25.85" lengthAdjust="spacingAndGlyphs">SVM</text>
<text x="588.80" y="693.10" font-family='"Liberation Sans", sans-serif' font-weight="bold" font-size="10.60" fill="#262626" textLength="58.02" lengthAdjust="spacingAndGlyphs">Neural Net</text>
<text transform="translate(28.10,569.00) rotate(-90)" font-family='"Liberation Sans", sans-serif' font-weight="bold" font-size="12.20" fill="#262626" textLength="76.53" lengthAdjust="spacingAndGlyphs">Accuracy (%)</text>
<text x="555.80" y="599.50" font-family='"Liberation Sans", sans-serif' font-weight="bold" font-size="10.20" fill="#000" textLength="57.64" lengthAdjust="spacingAndGlyphs">Neural Net</text>
<text x="555.80" y="613.20" font-family='"Liberation Sans", sans-serif' font-weight="bold" font-size="10.20" fill="#000" textLength="25.29" lengthAdjust="spacingAndGlyphs">SVM</text>
<text x="555.80" y="626.70" font-family='"Liberation Sans", sans-serif' font-weight="bold" font-size="10.20" fill="#000" textLength="115.01" lengthAdjust="spacingAndGlyphs">K-Nearest Neighbors</text>
<text x="555.80" y="640.60" font-family='"Liberation Sans", sans-serif' font-weight="bold" font-size="10.20" fill="#000" textLength="84.41" lengthAdjust="spacingAndGlyphs">Random Forest</text>
<text x="555.80" y="653.70" font-family='"Liberation Sans", sans-serif' font-weight="bold" font-size="10.20" fill="#000" textLength="110.82" lengthAdjust="spacingAndGlyphs">Logistic Regression</text>
<text x="330.40" y="714.60" font-family='"Liberation Serif", serif' font-weight="normal" font-size="13.60" fill="#000" textLength="16.68" lengthAdjust="spacingAndGlyphs">(b)</text>
</svg>
</body></html>
